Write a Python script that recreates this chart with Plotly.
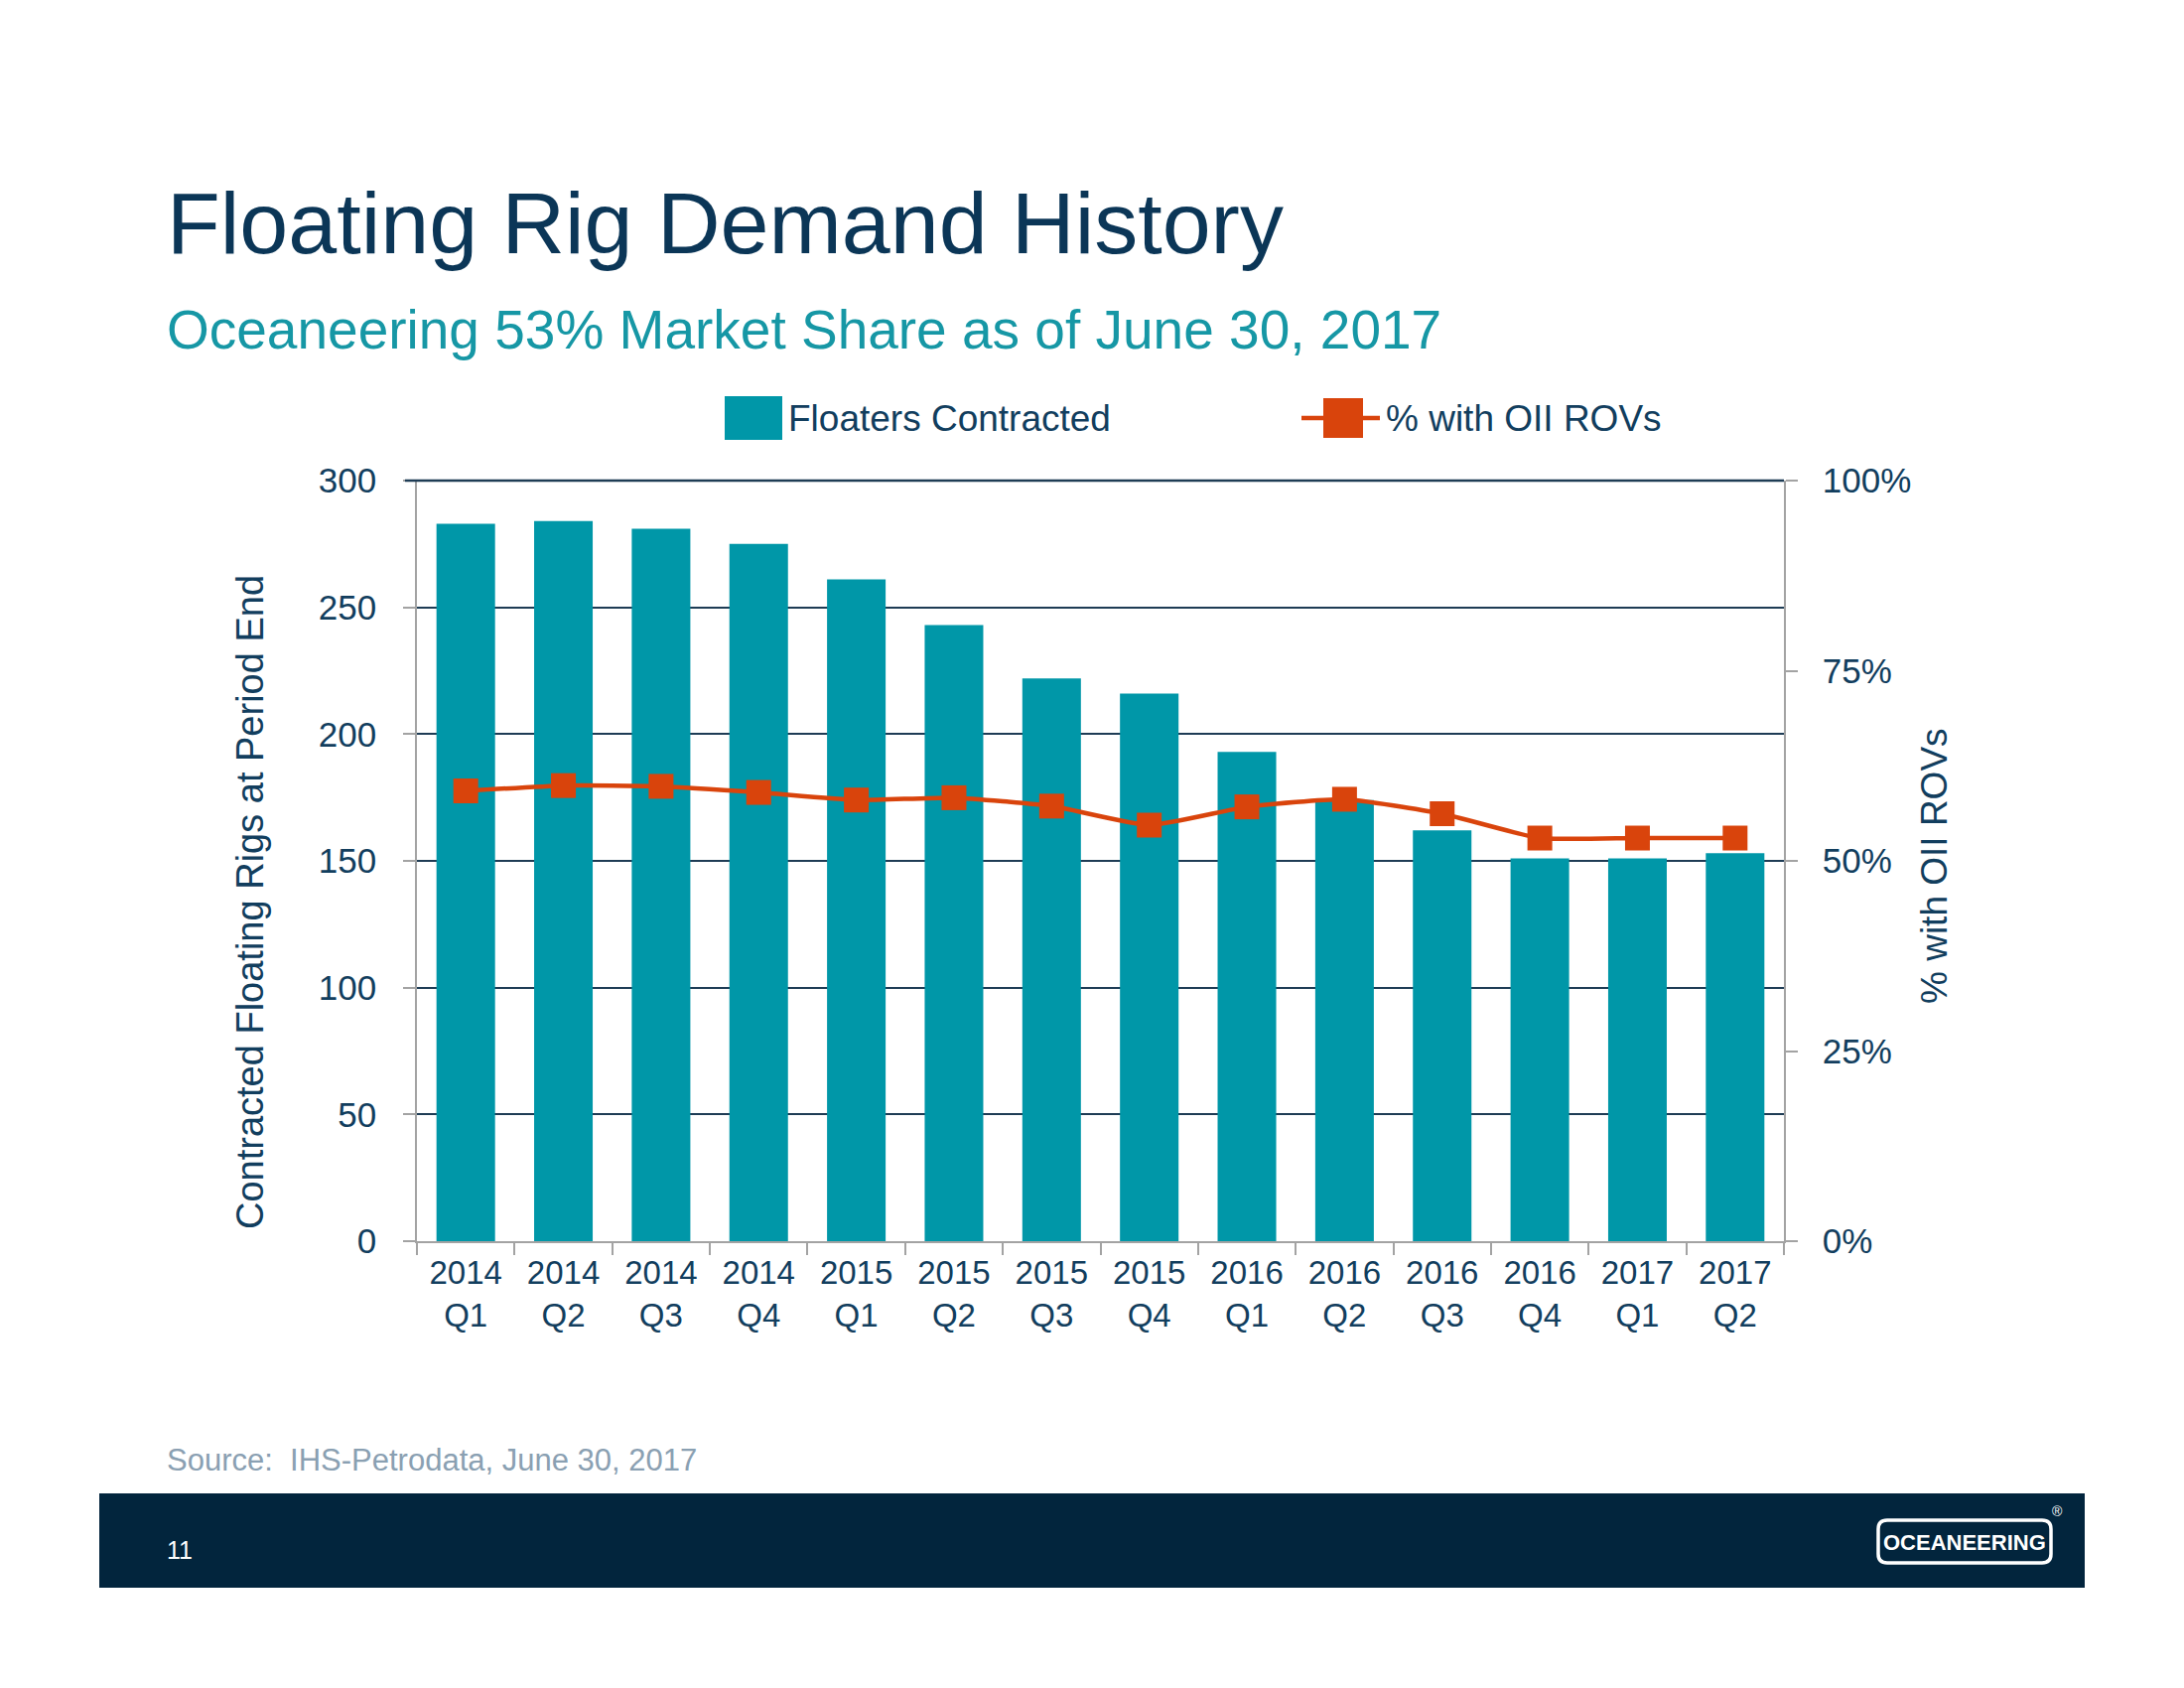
import plotly.graph_objects as go

# ---------------- data ----------------
years = ["2014", "2014", "2014", "2014", "2015", "2015", "2015", "2015",
         "2016", "2016", "2016", "2016", "2017", "2017"]
quarters = ["Q1", "Q2", "Q3", "Q4", "Q1", "Q2", "Q3", "Q4",
            "Q1", "Q2", "Q3", "Q4", "Q1", "Q2"]
categories = [f"{y}<br>{q}" for y, q in zip(years, quarters)]
floaters_contracted = [283, 284, 281, 275, 261, 243, 222, 216, 193, 174, 162, 151, 151, 153]
pct_with_oii_rovs = [0.592, 0.599, 0.598, 0.590, 0.580, 0.583, 0.572, 0.547,
                     0.571, 0.581, 0.562, 0.530, 0.530, 0.530]

left_ticks = [0, 50, 100, 150, 200, 250, 300]
right_ticks = [0, 0.25, 0.5, 0.75, 1.0]
right_tick_labels = ["0%", "25%", "50%", "75%", "100%"]

title_text = "Floating Rig Demand History"
subtitle_text = "Oceaneering 53% Market Share as of June 30, 2017"
source_text = "Source:  IHS-Petrodata, June 30, 2017"
bar_name = "Floaters Contracted"
line_name = "% with OII ROVs"
left_title = "Contracted Floating Rigs at Period End"
right_title = "% with OII ROVs"

# ---------------- style ----------------
FONT = "Liberation Sans, Arial, Helvetica, sans-serif"
NAVY = "#0b3657"
LABEL = "#123e5e"
TEAL = "#0097a8"
SUB_TEAL = "#1697a5"
ORANGE = "#d9440c"
GRID = "#1e3c55"
AXIS_GRAY = "#a3a3a3"
BAND = "#02253d"
SOURCE_GRAY = "#8aa0b2"

OFF = 8  # page body margin: screen coords = figure coords + OFF
W_PX, H_PX = 2200, 1700
L, R, T, B = 420 - OFF, 1797 - OFF, 484 - OFF, 1250 - OFF
PW, PH = R - L, B - T


def px(x):  # screen x -> paper
    return (x - OFF - L) / PW


def py(y):  # screen y -> paper
    return (B - (y - OFF)) / PH


fig = go.Figure()
fig.add_trace(go.Bar(
    x=categories, y=floaters_contracted, name=bar_name,
    marker=dict(color=TEAL, line=dict(width=0)), yaxis="y",
))
fig.add_trace(go.Scatter(
    x=categories, y=pct_with_oii_rovs, name=line_name, mode="lines+markers",
    line=dict(color=ORANGE, width=4.5, shape="spline", smoothing=0.5),
    marker=dict(symbol="square", size=25, color=ORANGE),
    yaxis="y2",
))

shapes = [
    # top gridline at the range edge (plotly hides edge gridlines)
    dict(type="line", xref="paper", yref="paper", x0=px(408), x1=1, y0=1, y1=1,
         line=dict(color=GRID, width=2.5), layer="above"),
    # footer band
    dict(type="rect", xref="paper", yref="paper",
         x0=px(100), x1=px(2100), y0=py(1599), y1=py(1504),
         fillcolor=BAND, line=dict(width=0), layer="above"),
    # legend: bar swatch
    dict(type="rect", xref="paper", yref="paper",
         x0=px(730), x1=px(788), y0=py(443), y1=py(399),
         fillcolor=TEAL, line=dict(width=0)),
    # legend: line + marker
    dict(type="line", xref="paper", yref="paper",
         x0=px(1311), x1=px(1390), y0=py(421), y1=py(421),
         line=dict(color=ORANGE, width=4.5)),
    dict(type="rect", xref="paper", yref="paper",
         x0=px(1333), x1=px(1373), y0=py(441), y1=py(401),
         fillcolor=ORANGE, line=dict(width=0)),
]

# logo rounded rectangle
lx0, lx1, ly0, ly1, rr = 1892, 2066, 1531, 1574, 9
path = (f"M {px(lx0 + rr)},{py(ly0)} L {px(lx1 - rr)},{py(ly0)} "
        f"Q {px(lx1)},{py(ly0)} {px(lx1)},{py(ly0 + rr)} "
        f"L {px(lx1)},{py(ly1 - rr)} Q {px(lx1)},{py(ly1)} {px(lx1 - rr)},{py(ly1)} "
        f"L {px(lx0 + rr)},{py(ly1)} Q {px(lx0)},{py(ly1)} {px(lx0)},{py(ly1 - rr)} "
        f"L {px(lx0)},{py(ly0 + rr)} Q {px(lx0)},{py(ly0)} {px(lx0 + rr)},{py(ly0)} Z")
shapes.append(dict(type="path", xref="paper", yref="paper", path=path,
                   line=dict(color="white", width=3.5), layer="above"))

annotations = [
    dict(text=title_text, x=px(166), y=py(225), xanchor="left", yanchor="middle",
         font=dict(family=FONT, size=88, color=NAVY)),
    dict(text=subtitle_text, x=px(166), y=py(332), xanchor="left", yanchor="middle",
         font=dict(family=FONT, size=55, color=SUB_TEAL)),
    dict(text=bar_name, x=px(792), y=py(421), xanchor="left", yanchor="middle",
         font=dict(family=FONT, size=37, color=LABEL)),
    dict(text=line_name, x=px(1394), y=py(421), xanchor="left", yanchor="middle",
         font=dict(family=FONT, size=37, color=LABEL)),
    dict(text=left_title, x=px(252), y=py(909), xanchor="center", yanchor="middle",
         textangle=-90, font=dict(family=FONT, size=38, color=LABEL)),
    dict(text=right_title, x=px(1948), y=py(872), xanchor="center", yanchor="middle",
         textangle=-90, font=dict(family=FONT, size=37, color=LABEL)),
    dict(text=source_text, x=px(166), y=py(1470), xanchor="left", yanchor="middle",
         font=dict(family=FONT, size=31, color=SOURCE_GRAY)),
    dict(text="11", x=px(166), y=py(1561), xanchor="left", yanchor="middle",
         font=dict(family=FONT, size=25, color="white")),
    dict(text="<b>OCEANEERING</b>", x=px(1979), y=py(1553), xanchor="center", yanchor="middle",
         font=dict(family="Liberation Sans Narrow, Arial Narrow, Liberation Sans, Arial", size=22,
                   color="white")),
    dict(text="®", x=px(2072), y=py(1522), xanchor="center", yanchor="middle",
         font=dict(family=FONT, size=14, color="white")),
]
for a in annotations:
    a.update(xref="paper", yref="paper", showarrow=False)

fig.update_layout(
    width=W_PX, height=H_PX,
    margin=dict(l=L, r=W_PX - R, t=T, b=H_PX - B, pad=0),
    paper_bgcolor="white", plot_bgcolor="white",
    showlegend=False,
    bargap=0.4,
    font=dict(family=FONT, color=LABEL),
    shapes=shapes,
    annotations=annotations,
    xaxis=dict(
        type="category", range=[-0.5, len(categories) - 0.5],
        tickson="boundaries", ticks="outside", ticklen=12,
        tickwidth=1.5, tickcolor=AXIS_GRAY, showline=True, linecolor=AXIS_GRAY,
        linewidth=1.5, showgrid=False, zeroline=False,
        tickfont=dict(family=FONT, size=33, color=LABEL), ticklabelstandoff=2,
    ),
    yaxis=dict(
        range=[0, 300], tickvals=left_ticks, ticks="outside", ticklen=12,
        tickwidth=1.5, tickcolor=AXIS_GRAY, showline=True, linecolor=AXIS_GRAY,
        linewidth=1.5, showgrid=True, gridcolor=GRID, gridwidth=2, zeroline=False,
        tickfont=dict(family=FONT, size=35, color=LABEL), ticklabelstandoff=20,
    ),
    yaxis2=dict(
        overlaying="y", side="right", range=[0, 1], tickvals=right_ticks,
        ticktext=right_tick_labels, ticks="outside", ticklen=12, tickwidth=1.5,
        tickcolor=AXIS_GRAY, showline=True, linecolor=AXIS_GRAY, linewidth=1.5,
        showgrid=False, zeroline=False,
        tickfont=dict(family=FONT, size=35, color=LABEL), ticklabelstandoff=18,
    ),
)

fig.write_html("out.html")
